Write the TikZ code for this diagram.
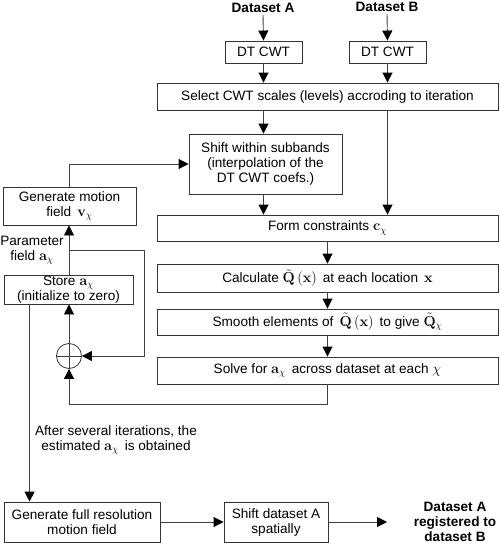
\documentclass[tikz,border=0pt]{standalone}
\usepackage[no-math]{fontspec}
\setmainfont{Liberation Sans}
\usetikzlibrary{arrows.meta,calc}
\begin{document}
\begin{tikzpicture}[x=1pt,y=-1pt,
  every node/.style={font=\fontsize{13.6}{15}\selectfont, align=center, inner sep=0pt},
  box/.style={draw=black!80, line width=0.9pt, minimum width=#1},
  conn/.style={draw=black!75, line width=0.9pt},
  arr/.style={conn, -{Triangle[length=10pt,width=10pt,color=black]}},
  bold/.style={font=\fontsize{13.6}{15}\selectfont\bfseries}
]
\useasboundingbox (0,0) rectangle (500,543);
% titles
\node[bold] (dsA) at (263,8) {Dataset A};
\node[bold] (dsB) at (387,7) {Dataset B};
% boxes
\node[box=77pt, minimum height=22pt] (dtA) at (263.5,52) {DT CWT};
\node[box=77pt, minimum height=22pt] (dtB) at (387.5,52) {DT CWT};
\node[box=341pt, minimum height=27pt] (sel) at (327.5,96.5) {Select CWT scales (levels) accroding to iteration};
\node[box=153pt, minimum height=60pt] (shf) at (265.5,164) {Shift within subbands\\(interpolation of the\\DT CWT coefs.)};
\node[box=133pt, minimum height=38pt] (gen) at (69.5,206) {Generate motion\\field\, $\mathbf{v}_{\chi}$};
\node[box=341pt, minimum height=26pt] (form) at (327.5,228) {Form constraints $\mathbf{c}_{\chi}$};
\node[box=341pt, minimum height=28pt] (calc) at (327.5,278) {Calculate $\tilde{\mathbf{Q}}\left(\mathbf{x}\right)$\, at each location\, $\mathbf{x}$};
\node[box=341pt, minimum height=26pt] (smooth) at (327.5,322) {Smooth elements of\, $\tilde{\mathbf{Q}}\left(\mathbf{x}\right)$\, to give $\tilde{\mathbf{Q}}_{\chi}$};
\node[box=341pt, minimum height=27pt] (solve) at (327.5,370.5) {Solve for $\mathbf{a}_{\chi}$\, across dataset at each $\chi$};
\node[box=129pt, minimum height=29pt] (store) at (68.5,289.5) {Store $\mathbf{a}_{\chi}$\\(initialize to zero)};
\node[draw=black!80, line width=0.8pt, circle, minimum size=25pt] (circ) at (69,356) {};
\node[box=156pt, minimum height=40pt] (full) at (82,522) {Generate full resolution\\motion field};
\node[box=104pt, minimum height=40pt] (shd) at (276,522) {Shift dataset A\\spatially};
% labels
\node[bold] (out) at (455,522) {Dataset A\\registered to\\dataset B};
\node (param) at (32,250) {Parameter\\field $\mathbf{a}_{\chi}$};
\node (after) at (116,440) {After several iterations, the\\estimated $\mathbf{a}_{\chi}$\, is obtained};
% coordinates
\coordinate (br) at (69,250);
\coordinate (brR) at (144,250);
\coordinate (outEnd) at (387,522);
% connectors
\draw[arr] ([yshift=-2pt]dsA.south) -- (dtA.north);
\draw[arr] ([yshift=-2pt]dsB.south) -- (dtB.north);
\draw[arr] (dtA.south) -- (dtA.south |- sel.north);
\draw[arr] (dtB.south) -- (dtB.south |- sel.north);
\draw[arr] (dtA.south |- sel.south) -- (dtA.south |- shf.north);
\draw[arr] (dtB.south |- sel.south) -- (dtB.south |- form.north);
\draw[arr] (dtA.south |- shf.south) -- (dtA.south |- form.north);
\draw[arr] (form.south) -- (calc.north);
\draw[arr] (calc.south) -- (smooth.north);
\draw[arr] (smooth.south) -- (solve.north);
\draw[arr] (gen.north -| circ.center) |- (shf.west);
\draw[arr] (store.north -| circ.center) -- (gen.south -| circ.center);
\draw[arr] (br) -- (brR) |- (circ.east);
\draw[arr] (solve.south) -- ++(0,20) -| (circ.south);
\draw[arr] (circ.north) -- (store.south -| circ.north);
\draw[conn] (circ.west) -- (circ.east);
\draw[conn] (circ.north) -- (circ.south);
\draw[arr] (store.south -| full.north west) ++(26,0) coordinate (sb) -- (sb |- full.north);
\draw[arr] (full.east) -- (shd.west);
\draw[arr] (shd.east) -- (outEnd);
\end{tikzpicture}
\end{document}
